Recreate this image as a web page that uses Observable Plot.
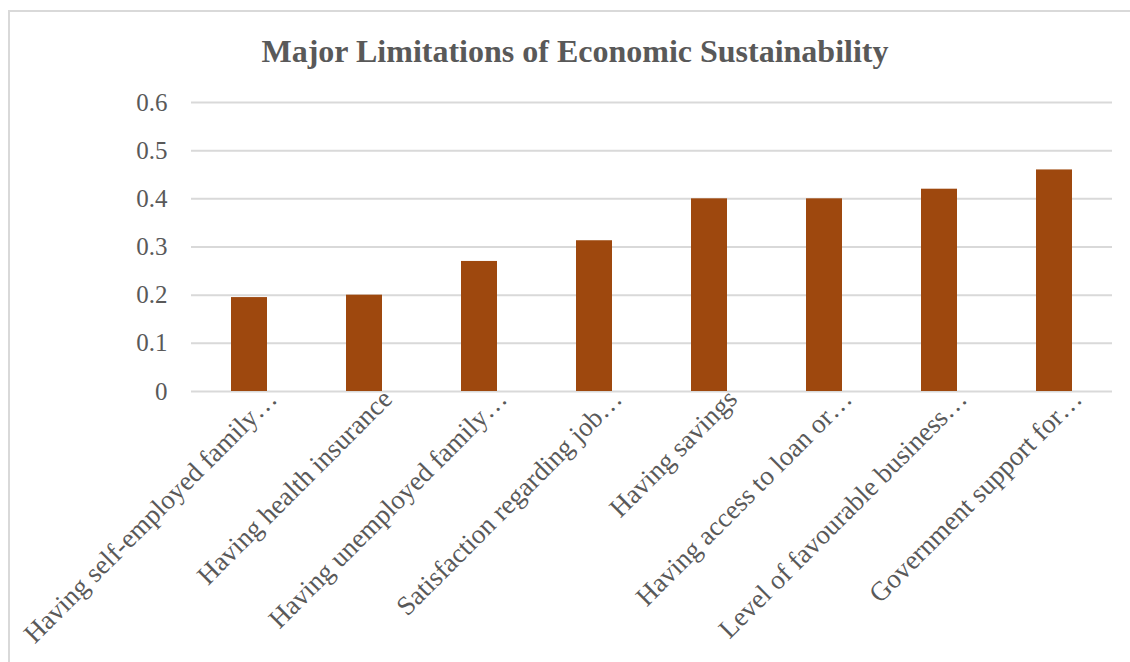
<!DOCTYPE html>
<html>
<head>
<meta charset="utf-8">
<script src="https://cdn.jsdelivr.net/npm/d3@7"></script>
<script src="https://cdn.jsdelivr.net/npm/@observablehq/plot@0.6"></script>
<style>
  html, body { margin: 0; padding: 0; background: #fff; }
  body { width: 1130px; height: 662px; position: relative; overflow: hidden; font-family: "Liberation Serif", "Times New Roman", serif; }
  #frame { position: absolute; left: 8px; top: 10px; width: 1140px; height: 700px; border-left: 2px solid #d9d9d9; border-top: 2px solid #d9d9d9; }
  #title { position: absolute; left: 0; width: 1150px; top: 33px; text-align: center; font-weight: bold; font-size: 32px; line-height: 36px; color: #595959; }
  #chart { position: absolute; left: 0; top: 60px; }
</style>
</head>
<body>
<div id="frame"></div>
<div id="title">Major Limitations of Economic Sustainability</div>
<div id="chart"></div>
<script>
const categories = [
  "Having self-employed family…",
  "Having health insurance",
  "Having unemployed family…",
  "Satisfaction regarding job…",
  "Having savings",
  "Having access to loan or…",
  "Level of favourable business…",
  "Government support for…"
];
const values = [0.195, 0.2, 0.27, 0.313, 0.40, 0.40, 0.42, 0.46];
const yTicks = [0, 0.1, 0.2, 0.3, 0.4, 0.5, 0.6];

const data = categories.map((c, i) => ({category: c, value: values[i]}));

const chart = Plot.plot({
  width: 1130,
  height: 600,
  marginLeft: 191,
  marginRight: 18,
  marginTop: 42,
  marginBottom: 269,
  style: {fontFamily: "'Liberation Serif', 'Times New Roman', serif", color: "#595959", background: "transparent"},
  x: {domain: categories, paddingInner: 0.69, paddingOuter: 0.345, label: null},
  y: {domain: [0, 0.6], ticks: yTicks, label: null},
  marks: [
    Plot.gridY(yTicks, {stroke: "#d9d9d9", strokeOpacity: 1, strokeWidth: 2}),
    Plot.barY(data, {x: "category", y: "value", fill: "#9E480E"}),
    Plot.axisY(yTicks, {tickSize: 0, tickPadding: 24, fontSize: 25, tickFormat: d => String(d), label: null}),
    Plot.axisX({tickSize: 0, tickRotate: -45, tickPadding: 3, dx: 23, fontSize: 27, label: null, tickFormat: d => d})
  ]
});
document.getElementById("chart").appendChild(chart);
</script>
</body>
</html>
